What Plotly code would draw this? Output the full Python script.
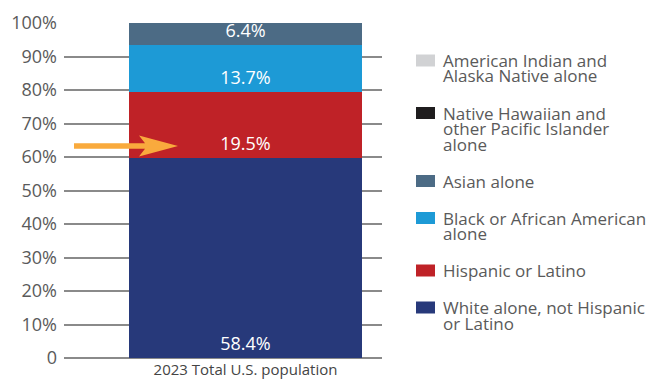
import plotly.graph_objects as go

# ---- data -------------------------------------------------------------
categories = ["2023 Total U.S. population"]

# stacking order, bottom to top
groups = [
    "White alone, not Hispanic or Latino",
    "Hispanic or Latino",
    "Black or African American alone",
    "Asian alone",
    "Native Hawaiian and other Pacific Islander alone",
    "American Indian and Alaska Native alone",
]
shares = [58.4, 19.5, 13.7, 6.4, None, None]
colors = ["#27397A", "#BF2227", "#1D9AD6", "#4C6B85", "#1F1D1E", "#D1D2D4"]

# legend labels broken into display lines (same order as groups)
legend_lines = [
    ["White alone, not Hispanic", "or Latino"],
    ["Hispanic or Latino"],
    ["Black or African American", "alone"],
    ["Asian alone"],
    ["Native Hawaiian and", "other Pacific Islander", "alone"],
    ["American Indian and", "Alaska Native alone"],
]

ytick_vals = [0, 10, 20, 30, 40, 50, 60, 70, 80, 90, 100]
ytick_text = ["0", "10%", "20%", "30%", "40%", "50%", "60%", "70%", "80%", "90%", "100%"]

# ---- layout constants -------------------------------------------------
W, H = 661, 379
M_L, M_R, M_T, M_B = 64, 279, 23, 21
FONT = "Open Sans"
GREY_TXT = "#5a5a5a"


def px_to_paper(px, py):
    """Convert page pixel coordinates into paper coordinates."""
    pw = W - M_L - M_R
    ph = H - M_T - M_B
    return (px - M_L) / pw, (H - M_B - py) / ph


fig = go.Figure()

for name, val, col in zip(groups, shares, colors):
    fig.add_trace(
        go.Bar(
            x=categories,
            y=[val],
            name=name,
            marker=dict(color=col, line=dict(width=0)),
            width=1,
            text=[f"{val}%" if val is not None else ""],
            textposition="inside",
            insidetextanchor="start",
            textfont=dict(family=FONT, size=18, color="white"),
            constraintext="none",
            showlegend=False,
            hoverinfo="skip",
        )
    )

# ---- hand-built legend (top entry first) ------------------------------
shapes = []
annotations = []
line_pitch = 15.5
entry_gap = 21.5
y_cursor = 60.5
for lines, col in zip(reversed(legend_lines), reversed(colors)):
    sx0, sy0 = px_to_paper(416, y_cursor + 6)
    sx1, sy1 = px_to_paper(435, y_cursor - 6)
    shapes.append(
        dict(type="rect", xref="paper", yref="paper",
             x0=sx0, x1=sx1, y0=sy0, y1=sy1,
             fillcolor=col, line=dict(width=0))
    )
    for i, ln in enumerate(lines):
        tx, ty = px_to_paper(441, y_cursor + i * line_pitch)
        annotations.append(
            dict(text=ln, xref="paper", yref="paper", x=tx, y=ty,
                 xanchor="left", yanchor="middle", showarrow=False,
                 font=dict(family=FONT, size=17, color=GREY_TXT))
        )
    y_cursor += len(lines) * line_pitch + entry_gap

# ---- orange pointer arrow ---------------------------------------------
ax_, ay_ = px_to_paper(178, 146)
shapes.append(
    dict(
        type="path",
        xref="paper", yref="paper",
        xsizemode="pixel", ysizemode="pixel",
        xanchor=ax_, yanchor=ay_,
        path="M-104,-2.8 L-33,-2.8 L-39,-10.5 L0,0 L-39,10.5 L-33,2.8 L-104,2.8 Z",
        fillcolor="#F9AA3D",
        line=dict(width=0),
    )
)

fig.update_layout(
    width=W,
    height=H,
    margin=dict(l=M_L, r=M_R, t=M_T, b=M_B, pad=0),
    barmode="stack",
    barnorm="percent",
    bargap=0,
    plot_bgcolor="white",
    paper_bgcolor="white",
    font=dict(family=FONT, color=GREY_TXT),
    shapes=shapes,
    annotations=annotations,
    xaxis=dict(
        range=[-0.779, 0.586],
        showgrid=False,
        zeroline=False,
        showline=False,
        ticks="",
        tickfont=dict(family=FONT, size=15, color="#444444"),
        ticklabelstandoff=1,
        automargin=False,
        fixedrange=True,
    ),
    yaxis=dict(
        range=[0, 100],
        tickvals=ytick_vals,
        ticktext=ytick_text,
        showgrid=True,
        gridcolor="#8a8a8a",
        gridwidth=1.6,
        zeroline=True,
        zerolinecolor="#8a8a8a",
        zerolinewidth=1.6,
        showline=False,
        ticks="",
        tickfont=dict(family=FONT, size=18, color=GREY_TXT),
        ticklabelstandoff=6,
        automargin=False,
        fixedrange=True,
    ),
)

fig.write_html("out.html")
